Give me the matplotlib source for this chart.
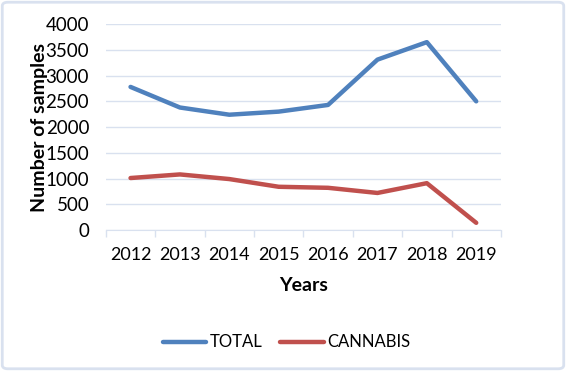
import matplotlib.pyplot as plt
import numpy as np
from matplotlib.patches import FancyBboxPatch

years = ['2012', '2013', '2014', '2015', '2016', '2017', '2018', '2019']
total = [2780, 2380, 2240, 2300, 2430, 3310, 3650, 2500]
cannabis = [1010, 1080, 990, 840, 820, 720, 910, 140]

grid_color = '#d9e1ef'
plt.rcParams['font.family'] = ['Lato', 'DejaVu Sans']

fig = plt.figure(figsize=(5.66, 3.71), dpi=100)
ax = fig.add_axes([0.187, 0.38, 0.698, 0.555])

x = np.arange(len(years))
ax.plot(x, total, color='#4f81bd', lw=3.2, label='TOTAL', solid_capstyle='round')
ax.plot(x, cannabis, color='#c0504d', lw=3.2, label='CANNABIS', solid_capstyle='round')

ax.set_xlim(-0.5, len(years) - 0.5)
ax.set_ylim(0, 4000)
ax.set_yticks(range(0, 4001, 500))
ax.set_xticks(x)
ax.set_xticklabels(years)
ax.set_xticks(np.arange(-0.5, len(years)), minor=True)
ax.tick_params(axis='x', which='major', length=0, pad=12, labelsize=13)
ax.tick_params(axis='x', which='minor', length=5, color=grid_color, width=1)
ax.tick_params(axis='y', length=0, pad=12, labelsize=13.5)

ax.grid(axis='y', color=grid_color, lw=1)
ax.set_axisbelow(True)
for side in ['top', 'right', 'left']:
    ax.spines[side].set_visible(False)
ax.spines['bottom'].set_color(grid_color)

ax.set_xlabel('Years', fontsize=14, fontweight='bold', labelpad=10)
ax.set_ylabel('Number of samples', fontsize=14, fontweight='bold', labelpad=-2)

fig.legend(loc='center', bbox_to_anchor=(0.506, 0.077), ncol=2, frameon=False,
           fontsize=12, handlelength=2.6, columnspacing=1.1, handletextpad=0.2)

frame = FancyBboxPatch((0.004, 0.006), 0.992, 0.988, boxstyle='round,pad=0,rounding_size=0.01',
                       transform=fig.transFigure, fill=False, edgecolor=grid_color, lw=2)
fig.patches.append(frame)

fig.savefig('out.png', dpi=100)
